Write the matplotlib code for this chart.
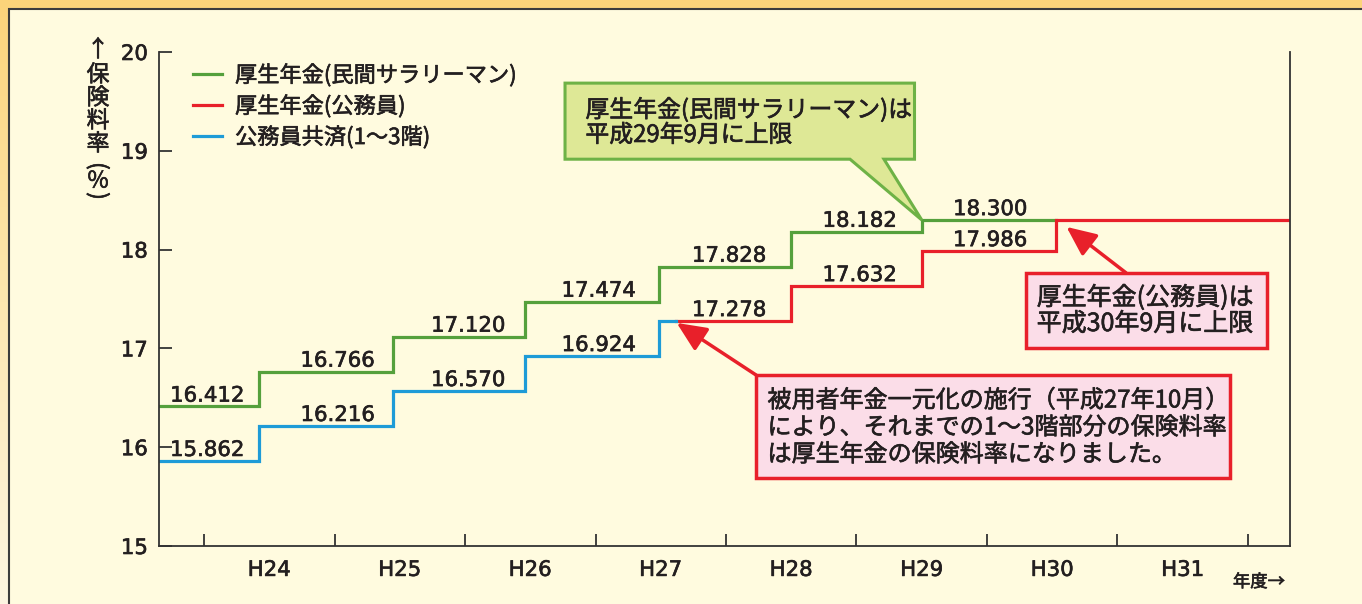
import numpy as np
import matplotlib.pyplot as plt
import matplotlib.patheffects as pe
from matplotlib.patches import Rectangle, Polygon
from matplotlib.colors import LinearSegmentedColormap

JP = ['Noto Sans CJK JP', 'DejaVu Sans']
TXT = '#231f20'
GREEN = '#55a03c'
RED = '#e8202a'
BLUE = '#1e9bd7'
BOLDISH = [pe.withStroke(linewidth=0.45, foreground=TXT)]

# 年度 (平成) -- x軸は年度単位
years = [24, 25, 26, 27, 28, 29, 30, 31]
year_labels = ['H24', 'H25', 'H26', 'H27', 'H28', 'H29', 'H30', 'H31']

# 料率が上がる位置 (毎年9月ごろ, 図から読み取り)
step_x = [24.425, 25.447, 26.463, 27.487, 28.500, 29.500, 30.529]
x_switch = 27.617  # 被用者年金一元化 (H27年10月)

kosei = [16.412, 16.766, 17.120, 17.474, 17.828, 18.182, 18.300]   # 厚生年金(民間)
kyosai = [15.862, 16.216, 16.570, 16.924, 17.278]                  # 公務員共済(1~3階)
komuin = [17.278, 17.632, 17.986, 18.300]                          # 厚生年金(公務員)

# ラベルを置く年度
kosei_lab_years = [24, 25, 26, 27, 28, 29, 30]
kyosai_lab_years = [24, 25, 26, 27]
komuin_lab_years = [28, 29, 30]

x_lo, x_hi = 23.655, 32.322

fig = plt.figure(figsize=(13.62, 6.04), dpi=100)

# === 背景 ===
bg = fig.add_axes([0, 0, 1, 1], zorder=-10)
cmap = LinearSegmentedColormap.from_list('bg', ['#fcd47a', '#fde7b0', '#fef6e2'])
bg.imshow(np.linspace(0, 1, 256).reshape(-1, 1), aspect='auto', cmap=cmap,
          extent=[0, 1, 0, 1], origin='upper')
bg.add_patch(Rectangle((8.5 / 1362, -0.05), 1.1, 1 - 8.5 / 604 + 0.05,
                       transform=bg.transAxes, facecolor='#fffbdf',
                       edgecolor='#3c3c3c', lw=1.5))
bg.set_xlim(0, 1)
bg.set_ylim(0, 1)
bg.axis('off')

# === グラフ ===
ax = fig.add_axes([159 / 1362, 1 - 546 / 604, 1131 / 1362, 494 / 604])
ax.set_facecolor('none')

xs_g = [x_lo] + step_x
ys_g = kosei + [kosei[-1]]
xs_b = [x_lo] + step_x[:4] + [x_switch]
ys_b = kyosai + [kyosai[-1]]
xs_r = [x_switch] + step_x[4:] + [x_hi]
ys_r = komuin + [komuin[-1]]

l_g, = ax.plot(xs_g, ys_g, drawstyle='steps-post', color=GREEN, lw=2.3,
               label='厚生年金(民間サラリーマン)', solid_joinstyle='miter')
l_r, = ax.plot(xs_r, ys_r, drawstyle='steps-post', color=RED, lw=2.3,
               label='厚生年金(公務員)', solid_joinstyle='miter')
l_b, = ax.plot(xs_b, ys_b, drawstyle='steps-post', color=BLUE, lw=2.3,
               label='公務員共済(1〜3階)', solid_joinstyle='miter')

def put_labels(lab_years, vals):
    for yr, v in zip(lab_years, vals):
        ax.annotate(f'{v:.3f}', xy=(yr + 0.025, v), xytext=(0, 3.5),
                    textcoords='offset points', ha='center', va='baseline',
                    fontsize=15.3, color=TXT, path_effects=BOLDISH)

put_labels(kosei_lab_years, kosei)
put_labels(kyosai_lab_years, kyosai)
put_labels(komuin_lab_years, komuin)

ax.set_xlim(x_lo, x_hi)
ax.set_ylim(15, 20)
ax.set_yticks([15, 16, 17, 18, 19, 20])
ax.set_xticks(years + [32])
ax.set_xticklabels([])
ax.set_xticks([y + 0.5 for y in years], minor=True)
ax.set_xticklabels(year_labels, minor=True)
ax.tick_params(axis='both', which='major', direction='in', length=9, width=1.3,
               color='#333333', labelsize=15.3, labelcolor=TXT, pad=8)
ax.tick_params(axis='x', which='minor', length=0, labelsize=15.3, labelcolor=TXT, pad=10)
for t in ax.get_yticklabels() + ax.get_xticklabels(minor=True):
    t.set_path_effects(BOLDISH)
ax.spines['top'].set_visible(False)
for s in ['left', 'bottom', 'right']:
    ax.spines[s].set_color('#333333')
    ax.spines[s].set_linewidth(1.3)

leg = ax.legend(handles=[l_g, l_r, l_b], loc='upper left',
                bbox_to_anchor=(0.022, 0.995), frameon=False,
                prop={'family': JP, 'size': 16}, handlelength=1.3,
                handletextpad=0.6, labelspacing=0.33, borderaxespad=0)
for t in leg.get_texts():
    t.set_color(TXT)
    t.set_path_effects(BOLDISH)

# 縦書きの軸ラベル (一文字ずつ, 括弧は回転)
ylab_chars = ['↑', '保', '険', '料', '率', '(', '%', ')']
ylab_rot = [0, 0, 0, 0, 0, -90, 0, -90]
ylab_pos = [50, 75, 98, 121, 144, 166, 181, 196]
for ch, rot, py in zip(ylab_chars, ylab_rot, ylab_pos):
    fig.text(98 / 1362, 1 - py / 604, ch, family=JP, fontsize=16.5, color=TXT,
             ha='center', va='center', rotation=rot, rotation_mode='anchor',
             path_effects=BOLDISH)
fig.text(1259 / 1362, 1 - 582 / 604, '年度→', family=JP, fontsize=12.5,
         color=TXT, ha='center', va='center', path_effects=BOLDISH)

# === 吹き出し (緑) ===
tip = ((step_x[5] - x_lo) / (x_hi - x_lo), (kosei[6] - 15) / 5)
callout = [(0.359, 0.937), (0.668, 0.937), (0.668, 0.783), (0.641, 0.783),
           tip, (0.611, 0.783), (0.359, 0.783)]
ax.add_patch(Polygon(callout, closed=True, transform=ax.transAxes,
                     facecolor='#dee896', edgecolor='#6eb246', lw=2.2,
                     joinstyle='miter', zorder=5))
ax.text(0.377, 0.858, '厚生年金(民間サラリーマン)は\n平成29年9月に上限',
        transform=ax.transAxes, family=JP, fontsize=17.2, color=TXT,
        ha='left', va='center', linespacing=1.1, zorder=6, path_effects=BOLDISH)

# === 赤い注記 ===
ax.add_patch(Rectangle((0.528, 0.138), 0.419, 0.208, transform=ax.transAxes,
                       facecolor='#fbdde8', edgecolor=RED, lw=2.5, zorder=5))
ax.text(0.538, 0.240,
        '被用者年金一元化の施行（平成27年10月）\nにより、それまでの1〜3階部分の保険料率\nは厚生年金の保険料率になりました。',
        transform=ax.transAxes, family=JP, fontsize=17.3, color=TXT,
        ha='left', va='center', linespacing=1.05, zorder=6, path_effects=BOLDISH)
ax.annotate('', xy=(x_switch + 0.005, komuin[0] - 0.02),
            xytext=(0.528, 0.346), textcoords='axes fraction',
            arrowprops=dict(arrowstyle='-|>,head_length=1.0,head_width=0.45',
                            mutation_scale=18, color=RED, lw=2.5,
                            shrinkA=0, shrinkB=0), zorder=4)

ax.add_patch(Rectangle((0.767, 0.401), 0.213, 0.152, transform=ax.transAxes,
                       facecolor='#fbdde8', edgecolor=RED, lw=2.5, zorder=5))
ax.text(0.776, 0.476, '厚生年金(公務員)は\n平成30年9月に上限',
        transform=ax.transAxes, family=JP, fontsize=18, color=TXT,
        ha='left', va='center', linespacing=1.0, zorder=6, path_effects=BOLDISH)
ax.annotate('', xy=(step_x[6] + 0.08, komuin[3] - 0.07),
            xytext=(0.855, 0.553), textcoords='axes fraction',
            arrowprops=dict(arrowstyle='-|>,head_length=1.0,head_width=0.45',
                            mutation_scale=18, color=RED, lw=2.5,
                            shrinkA=0, shrinkB=0), zorder=4)

fig.savefig('out.png', dpi=100)
